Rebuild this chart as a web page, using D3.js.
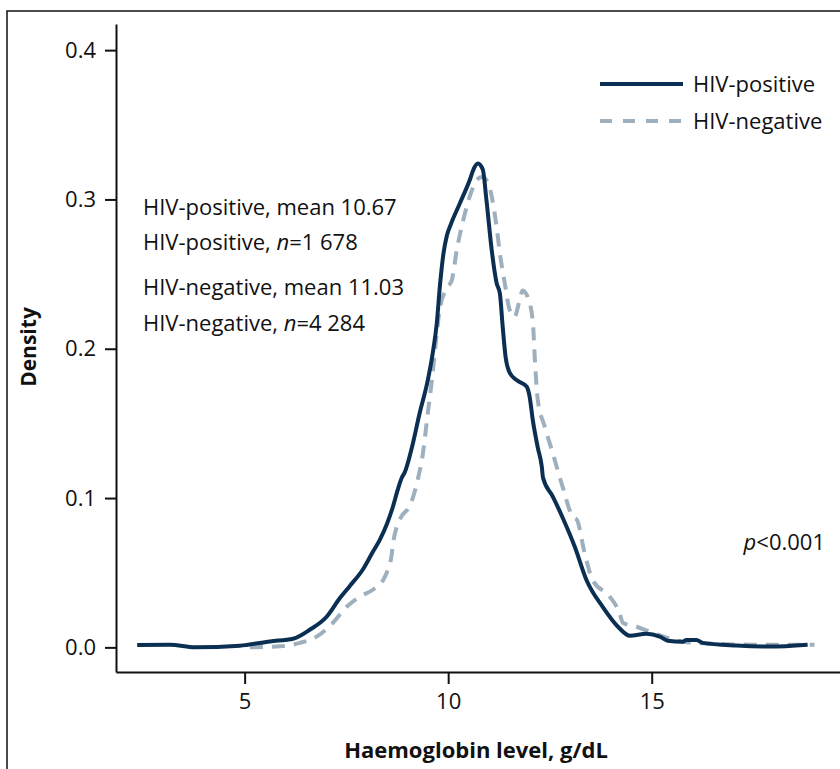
<!DOCTYPE html>
<html>
<head>
<meta charset="utf-8">
<script src="https://cdn.jsdelivr.net/npm/d3@7"></script>
<style>
  body { margin: 0; background: #fff; }
  svg text { font-family: "Open Sans", sans-serif; fill: #111; }
</style>
</head>
<body>
<svg id="chart" width="840" height="769"></svg>
<script>
// Haemoglobin (g/dL) vs density
const hivPositive = [
  [2.36, 0.0016], [3.17, 0.0018], [3.78, 0.0], [4.88, 0.0011], [5.62, 0.004],
  [6.19, 0.0058], [6.6, 0.0118], [7.02, 0.0207], [7.34, 0.033], [7.58, 0.041],
  [7.9, 0.052], [8.15, 0.064], [8.32, 0.072], [8.5, 0.083], [8.64, 0.094],
  [8.76, 0.1055], [8.86, 0.1136], [8.93, 0.117], [9.11, 0.134], [9.3, 0.157],
  [9.5, 0.179], [9.62, 0.197], [9.72, 0.217], [9.8, 0.243], [9.88, 0.263],
  [9.97, 0.276], [10.06, 0.283], [10.28, 0.297], [10.53, 0.313], [10.62, 0.32],
  [10.73, 0.324], [10.85, 0.32],
  [10.94, 0.2996], [11.07, 0.266], [11.19, 0.244], [11.27, 0.237], [11.34, 0.2146],
  [11.41, 0.1946], [11.51, 0.184], [11.68, 0.179], [11.93, 0.1745], [12.0, 0.168],
  [12.08, 0.152], [12.2, 0.134], [12.3, 0.121], [12.33, 0.1136], [12.57, 0.101],
  [12.81, 0.087], [13.11, 0.0674], [13.4, 0.045], [13.8, 0.027], [14.2, 0.013],
  [14.46, 0.0078], [14.87, 0.0092], [15.2, 0.0072], [15.39, 0.0045], [15.76, 0.0038],
  [15.85, 0.005], [16.1, 0.005], [16.25, 0.003], [17.08, 0.0012], [17.9, 0.0005],
  [18.83, 0.0018]
];

const hivNegative = [
  [5.13, 0.0], [5.87, 0.0007], [6.36, 0.003], [6.77, 0.0072], [7.17, 0.0165],
  [7.5, 0.027], [7.83, 0.034], [8.15, 0.0386], [8.4, 0.045], [8.49, 0.05],
  [8.6, 0.06], [8.66, 0.072], [8.75, 0.082], [8.86, 0.088], [9.06, 0.095],
  [9.25, 0.112], [9.38, 0.13], [9.5, 0.157], [9.6, 0.179], [9.7, 0.205],
  [9.79, 0.226], [9.95, 0.24], [10.09, 0.246],
  [10.21, 0.266], [10.36, 0.285], [10.58, 0.306], [10.7, 0.313], [10.83, 0.315],
  [10.97, 0.3116], [11.1, 0.2977], [11.19, 0.2815], [11.27, 0.264], [11.39, 0.244],
  [11.51, 0.226], [11.63, 0.2213], [11.75, 0.232], [11.83, 0.239], [11.95, 0.2348],
  [12.08, 0.218], [12.13, 0.1926], [12.2, 0.166], [12.37, 0.148], [12.57, 0.13],
  [12.81, 0.1076], [13.06, 0.0874], [13.16, 0.0855], [13.35, 0.0633], [13.55, 0.045],
  [13.97, 0.034], [14.21, 0.023], [14.29, 0.0165], [14.63, 0.0138], [14.95, 0.0105],
  [15.37, 0.0065], [15.76, 0.0038], [16.5, 0.0025], [17.48, 0.0018], [19.0, 0.0018]
];

const xTicks = [5, 10, 15];
const yTicks = [0, 0.1, 0.2, 0.3, 0.4];
const seriesNames = ["HIV-positive", "HIV-negative"];
const colors = ["#0b2f52", "#9eafbd"];

const svg = d3.select("#chart");

// frame (left + top edges)
svg.append("path")
    .attr("d", "M7,769 L7,11 L840,11")
    .attr("fill", "none")
    .attr("stroke", "#111")
    .attr("stroke-width", 1.5);

const x = d3.scaleLinear().domain([1.84, 19.65]).range([116, 841]);
const y = d3.scaleLinear().domain([-0.0165, 0.4175]).range([672, 24]);

// axes
const yAxis = svg.append("g")
    .attr("transform", "translate(116,0)")
    .call(d3.axisLeft(y).tickValues(yTicks).tickFormat(d3.format(".1f"))
        .tickSize(11).tickSizeOuter(0).tickPadding(9));

const xAxis = svg.append("g")
    .attr("transform", "translate(0,672)")
    .call(d3.axisBottom(x).tickValues(xTicks).tickFormat(d3.format("d"))
        .tickSize(12).tickSizeOuter(0).tickPadding(9));

[xAxis, yAxis].forEach(g => {
    g.select(".domain").attr("stroke", "#111").attr("stroke-width", 2);
    g.selectAll(".tick line").attr("stroke", "#111").attr("stroke-width", 2);
    g.selectAll(".tick text")
        .style("font-family", '"Open Sans", sans-serif')
        .style("font-size", "22px")
        .attr("fill", "#111");
});

// axis titles
svg.append("text")
    .attr("x", 476)
    .attr("y", 758)
    .attr("text-anchor", "middle")
    .style("font-size", "22px")
    .style("font-weight", "bold")
    .text("Haemoglobin level, g/dL");

svg.append("text")
    .attr("transform", "translate(36,347) rotate(-90)")
    .attr("text-anchor", "middle")
    .style("font-size", "21px")
    .style("font-weight", "bold")
    .text("Density");

// density curves
const line = d3.line()
    .x(d => x(d[0]))
    .y(d => y(d[1]))
    .curve(d3.curveMonotoneX);

svg.append("path")
    .datum(hivNegative)
    .attr("d", line)
    .attr("fill", "none")
    .attr("stroke", colors[1])
    .attr("stroke-width", 4)
    .attr("stroke-dasharray", "13,9");

svg.append("path")
    .datum(hivPositive)
    .attr("d", line)
    .attr("fill", "none")
    .attr("stroke", colors[0])
    .attr("stroke-width", 4)
    .attr("stroke-linejoin", "round");

// legend
const legend = svg.append("g");
seriesNames.forEach((name, i) => {
    const ly = 84 + i * 37;
    legend.append("line")
        .attr("x1", 600).attr("x2", 683)
        .attr("y1", ly).attr("y2", ly)
        .attr("stroke", colors[i])
        .attr("stroke-width", 4)
        .attr("stroke-dasharray", i === 1 ? "12,11" : null);
    legend.append("text")
        .attr("x", 693)
        .attr("y", ly + 8)
        .style("font-size", "22px")
        .text(name);
});

// annotations
const notes = [
    { y: 215, parts: [["HIV-positive, mean 10.67", false]] },
    { y: 250, parts: [["HIV-positive, ", false], ["n", true], ["=1 678", false]] },
    { y: 295, parts: [["HIV-negative, mean 11.03", false]] },
    { y: 331, parts: [["HIV-negative, ", false], ["n", true], ["=4 284", false]] }
];
notes.forEach(note => {
    const t = svg.append("text")
        .attr("x", 143)
        .attr("y", note.y)
        .style("font-size", "22px");
    note.parts.forEach(([s, it]) => {
        t.append("tspan").style("font-style", it ? "italic" : "normal").text(s);
    });
});

const pText = svg.append("text")
    .attr("x", 825)
    .attr("y", 550)
    .attr("text-anchor", "end")
    .style("font-size", "22px");
pText.append("tspan").style("font-style", "italic").text("p");
pText.append("tspan").text("<0.001");
</script>
</body>
</html>
